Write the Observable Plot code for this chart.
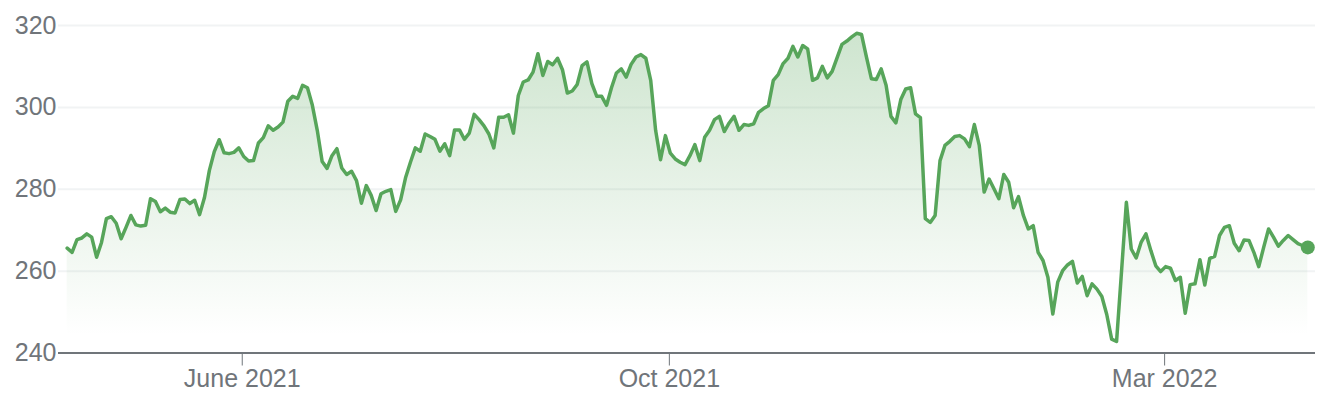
<!DOCTYPE html>
<html>
<head>
<meta charset="utf-8">
<script src="https://cdn.jsdelivr.net/npm/d3@7"></script>
<script src="https://cdn.jsdelivr.net/npm/@observablehq/plot@0.6"></script>
<style>
  html, body { margin: 0; padding: 0; background: #fff; }
  #chart { width: 1338px; height: 412px; }
</style>
</head>
<body>
<div id="chart"></div>
<script>
// Daily closing prices (trading-day order)
const prices = [
  265.6, 264.6, 267.7, 268.1, 269.1, 268.3, 263.4, 267.0, 272.8, 273.3,
  271.7, 267.9, 270.7, 273.6, 271.3, 271.0, 271.2, 277.7, 277.0, 274.5,
  275.4, 274.4, 274.2, 277.5, 277.6, 276.5, 277.3, 273.8, 278.0, 284.6,
  289.2, 292.1, 288.9, 288.7, 289.0, 290.1, 288.0, 286.9, 287.0, 291.3,
  292.6, 295.5, 294.4, 295.2, 296.4, 301.5, 302.7, 302.2, 305.4, 304.8,
  300.5, 294.4, 286.8, 285.1, 288.2, 289.9, 285.2, 283.6, 284.4, 282.1,
  276.6, 280.9, 278.5, 274.8, 278.9, 279.5, 279.9, 274.6, 277.4, 282.8,
  286.6, 290.1, 289.3, 293.5, 292.9, 292.2, 289.3, 291.1, 288.2, 294.5,
  294.5, 292.2, 293.7, 298.3, 297.0, 295.5, 293.5, 290.1, 297.6, 297.6,
  298.2, 293.7, 302.9, 306.2, 306.7, 308.6, 313.1, 307.8, 311.2, 310.4,
  312.0, 309.2, 303.5, 304.0, 305.6, 310.2, 311.1, 305.8, 302.7, 302.7,
  300.5, 304.8, 308.4, 309.4, 307.4, 310.5, 312.3, 312.9, 312.0, 306.6,
  294.4, 287.2, 293.1, 288.8, 287.4, 286.6, 286.0, 288.2, 290.9, 287.0,
  292.7, 294.4, 297.0, 297.8, 294.1, 296.2, 297.8, 294.4, 295.8, 295.6,
  296.0, 298.8, 299.7, 300.4, 306.6, 308.0, 310.7, 312.0, 314.9, 312.3,
  315.1, 314.3, 306.6, 307.2, 310.0, 307.2, 308.8, 312.1, 315.4, 316.2,
  317.2, 318.1, 317.8, 312.3, 307.0, 306.8, 309.4, 305.4, 297.8, 296.2,
  301.9, 304.5, 304.8, 298.4, 297.5, 272.8, 271.9, 273.6, 287.0, 290.7,
  291.7, 292.9, 293.1, 292.3, 290.4, 295.8, 290.7, 279.3, 282.5, 280.1,
  277.7, 283.6, 281.7, 275.5, 278.2, 273.6, 270.3, 271.1, 264.6, 262.6,
  258.5, 249.5, 257.3, 260.1, 261.5, 262.4, 257.1, 258.7, 254.0, 256.9,
  255.6, 253.8, 249.4, 243.4, 242.8, 259.7, 276.8, 265.4, 263.2, 267.0,
  269.1, 265.0, 261.3, 259.9, 261.1, 260.7, 257.7, 258.5, 249.7, 256.7,
  256.9, 262.8, 256.6, 263.1, 263.6, 268.7, 270.7, 271.1, 266.8, 265.0,
  267.6, 267.5, 264.6, 261.1, 265.8, 270.3, 268.3, 266.1, 267.5, 268.7,
  267.7, 266.7, 266.2, 265.8
];
// x-axis ticks (trading-day positions) and their labels
const tickPositions = [35.7, 122.8, 223.8];
const tickLabels = ["June 2021", "Oct 2021", "Mar 2022"];
// y-axis ticks
const yTicks = [240, 260, 280, 300, 320];

const data = prices.map((v, i) => ({i, v}));
const last = data[data.length - 1];

const green = "#57a55a";
const gray = "#70757a";
const font = "Arial, 'Liberation Sans', Helvetica, sans-serif";

const chart = Plot.plot({
  width: 1338,
  height: 412,
  marginLeft: 58,
  marginRight: 23,
  marginTop: 25,
  marginBottom: 59.5,
  style: {fontFamily: font, fontSize: "25px", color: gray, background: "#fff", overflow: "visible"},
  x: {type: "linear", domain: [-1.77, 254.57]},
  y: {domain: [240, 320]},
  marks: [
    Plot.gridY(yTicks.slice(1), {stroke: "#f1f3f4", strokeOpacity: 1, strokeWidth: 2}),
    Plot.areaY(data, {x: "i", y1: 240, y2: "v", fill: "url(#areaGrad)"}),
    Plot.ruleY([240], {stroke: gray, strokeWidth: 2}),
    Plot.axisY({ticks: yTicks, tickSize: 0, tickPadding: 2, fontSize: 25, label: null, fill: gray}),
    Plot.axisX({ticks: tickPositions, tickFormat: (d) => tickLabels[tickPositions.indexOf(d)], tickSize: 13, tickPadding: 3, fontSize: 25, label: null, stroke: gray, fill: gray, strokeWidth: 1}),
    Plot.lineY(data, {x: "i", y: "v", stroke: green, strokeWidth: 3.5, strokeLinejoin: "round", strokeLinecap: "round"}),
    Plot.dot([last], {x: "i", y: "v", r: 7, fill: green, stroke: "none"})
  ]
});

const defs = d3.select(chart).insert("defs", ":first-child");
const grad = defs.append("linearGradient")
  .attr("id", "areaGrad")
  .attr("gradientUnits", "userSpaceOnUse")
  .attr("x1", 0).attr("x2", 0)
  .attr("y1", 25).attr("y2", 335);
grad.append("stop").attr("offset", "0%").attr("stop-color", green).attr("stop-opacity", 0.3);
grad.append("stop").attr("offset", "100%").attr("stop-color", green).attr("stop-opacity", 0);

document.getElementById("chart").appendChild(chart);
</script>
</body>
</html>
